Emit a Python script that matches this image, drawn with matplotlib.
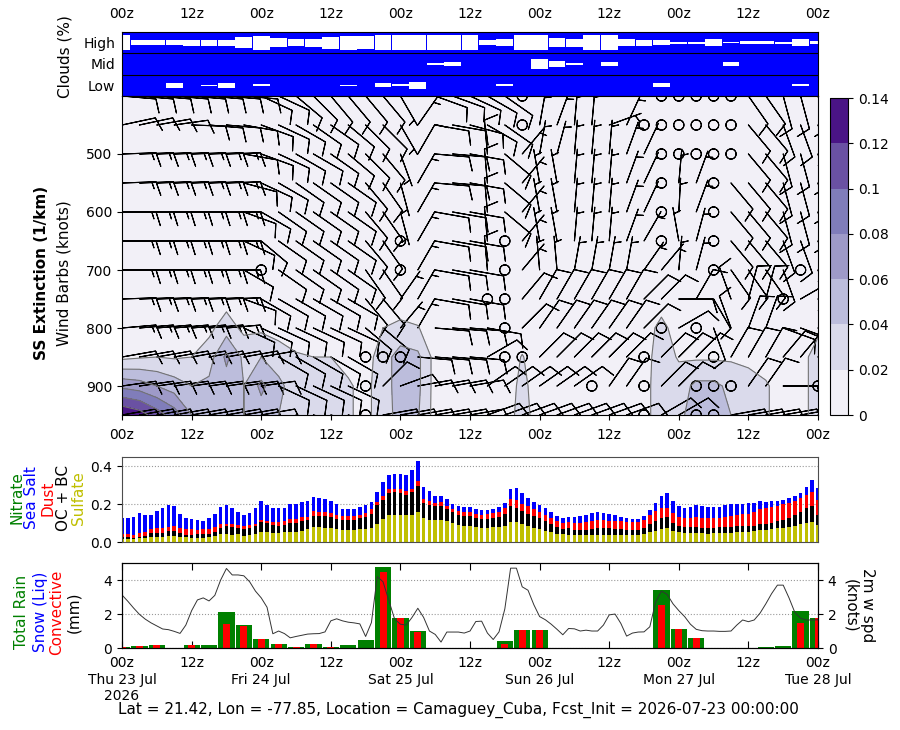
import matplotlib
matplotlib.use('Agg')
import matplotlib.pyplot as plt
import numpy as np

# ---------------- data ----------------
hours = np.arange(121)          # hourly steps, 0..120 h
hours3 = np.arange(0, 121, 3)   # 3-hourly steps
plevs = [400, 450, 500, 550, 600, 650, 700, 750, 800, 850, 900, 950]
ext_levs = [750, 800, 850, 900, 950]

cloud_high = [68, 24, 24, 24, 27, 27, 27, 49, 65, 43, 32, 37, 56, 65, 63, 67, 67, 67, 67, 67, 67,
              24, 33, 67, 67, 43, 37, 67, 67, 33, 27, 24, 10, 10, 33, 8, 17, 17, 10, 33, 17]
cloud_mid = [0, 0, 0, 0, 0, 0, 0, 0, 0, 0, 0, 0, 0, 0, 0, 0, 0, 0, 12, 15, 0,
             0, 0, 0, 45, 32, 9, 3, 18, 0, 0, 0, 0, 0, 0, 18, 0, 0, 0, 0, 0]
cloud_low = [0, 0, 0, 21, 0, 3, 25, 0, 10, 0, 0, 0, 0, 3, 0, 19, 10, 33, 0, 0, 0,
             0, 10, 0, 0, 0, 0, 0, 0, 0, 0, 19, 0, 0, 0, 0, 0, 0, 0, 10, 0]

# wind direction (deg, from) and speed (knots); rows = plevs, cols = hours3
wind_dir = [
    [95, 95, 95, 95, 95, 95, 95, 95, 115, 115, 130, 135, 140, 140, 140, 140, 150, 30, 110, 110, 115, 120, 125, 0, 10, 15, 5, 5, 5, 10, 25, 0, 0, 0, 0, 0, 145, 145, 165, 165, 165],
    [78, 78, 80, 82, 92, 95, 95, 100, 110, 115, 120, 125, 125, 130, 135, 135, 150, 35, 100, 100, 105, 120, 125, 0, 10, 20, 5, 5, 70, 25, 0, 0, 0, 0, 0, 0, 140, 140, 160, 160, 160],
    [88, 88, 88, 88, 88, 88, 88, 100, 110, 115, 120, 120, 125, 130, 135, 140, 160, 30, 95, 95, 100, 355, 130, 40, 10, 15, 5, 5, 5, 20, 25, 0, 0, 0, 0, 0, 140, 140, 165, 165, 165],
    [88, 88, 88, 88, 88, 88, 88, 105, 115, 120, 125, 125, 125, 125, 140, 145, 165, 30, 95, 95, 100, 355, 130, 40, 350, 350, 5, 5, 5, 20, 25, 0, 5, 20, 0, 140, 140, 140, 165, 165, 165],
    [90, 90, 90, 90, 90, 90, 90, 110, 120, 125, 125, 125, 125, 125, 140, 145, 165, 30, 100, 100, 100, 355, 130, 40, 350, 350, 5, 5, 5, 20, 25, 0, 3, 20, 0, 140, 140, 140, 165, 165, 165],
    [90, 90, 90, 90, 90, 90, 90, 115, 130, 125, 125, 125, 125, 125, 140, 145, 0, 30, 100, 100, 100, 355, 0, 40, 350, 350, 5, 5, 5, 20, 30, 0, 350, 15, 0, 140, 140, 140, 160, 160, 160],
    [90, 90, 90, 90, 90, 90, 90, 120, 0, 125, 125, 125, 125, 125, 145, 145, 0, 30, 100, 100, 100, 355, 0, 40, 355, 355, 10, 10, 10, 10, 35, 40, 5, 15, 0, 145, 145, 145, 160, 0, 160],
    [88, 88, 88, 88, 88, 88, 88, 110, 120, 120, 120, 120, 120, 120, 140, 140, 35, 30, 100, 100, 100, 0, 0, 40, 30, 30, 30, 30, 30, 30, 45, 45, 90, 30, 150, 340, 15, 15, 0, 60, 120],
    [85, 85, 85, 85, 85, 85, 85, 115, 115, 115, 115, 115, 115, 115, 130, 130, 40, 30, 95, 95, 95, 100, 0, 45, 35, 35, 35, 35, 35, 35, 45, 0, 60, 0, 160, 340, 20, 20, 110, 110, 110],
    [80, 80, 80, 80, 80, 80, 80, 80, 80, 120, 120, 120, 120, 120, 0, 0, 0, 95, 95, 95, 95, 60, 0, 0, 45, 45, 45, 45, 45, 45, 0, 45, 45, 45, 0, 30, 30, 30, 40, 40, 40],
    [82, 82, 82, 82, 82, 82, 82, 82, 82, 115, 115, 115, 115, 115, 0, 45, 70, 80, 80, 80, 80, 55, 55, 55, 55, 55, 55, 0, 35, 35, 0, 45, 45, 0, 0, 0, 35, 35, 90, 90, 0],
    [80, 80, 80, 80, 80, 80, 80, 80, 80, 105, 105, 105, 105, 105, 0, 80, 80, 80, 80, 80, 80, 70, 70, 70, 70, 70, 70, 70, 70, 70, 0, 60, 60, 0, 0, 80, 80, 80, 80, 80, 80],
]
wind_spd = [
    [10, 10, 10, 10, 10, 10, 10, 10, 12, 12, 12, 12, 12, 12, 12, 12, 7, 7, 10, 10, 10, 10, 10, 0, 7, 7, 7, 7, 7, 7, 7, 0, 0, 0, 0, 0, 10, 10, 10, 10, 10],
    [12, 12, 12, 12, 12, 12, 12, 12, 12, 12, 12, 12, 12, 12, 12, 12, 7, 7, 10, 10, 10, 10, 10, 0, 7, 7, 7, 7, 7, 7, 0, 0, 0, 0, 0, 0, 10, 10, 10, 10, 10],
    [15, 15, 15, 15, 15, 15, 15, 12, 12, 12, 12, 12, 12, 12, 12, 12, 7, 8, 10, 10, 10, 10, 10, 7, 7, 7, 7, 7, 7, 7, 7, 0, 0, 0, 0, 0, 10, 10, 10, 10, 10],
    [15, 15, 15, 15, 15, 15, 15, 12, 12, 12, 12, 12, 12, 12, 12, 12, 7, 7, 10, 10, 10, 10, 10, 7, 7, 7, 7, 7, 7, 7, 7, 0, 7, 7, 0, 10, 10, 10, 10, 10, 10],
    [15, 15, 15, 15, 15, 15, 15, 12, 12, 12, 12, 12, 12, 12, 12, 12, 7, 7, 10, 10, 10, 10, 10, 7, 7, 7, 7, 7, 7, 7, 7, 0, 7, 7, 0, 10, 10, 10, 10, 10, 10],
    [15, 15, 15, 15, 15, 15, 15, 12, 12, 12, 12, 12, 12, 12, 12, 12, 0, 7, 10, 10, 10, 10, 0, 7, 7, 7, 7, 7, 7, 7, 7, 0, 7, 7, 0, 10, 10, 10, 10, 10, 10],
    [15, 15, 15, 15, 15, 15, 15, 12, 0, 12, 12, 12, 12, 12, 12, 12, 0, 7, 10, 10, 10, 10, 0, 7, 7, 7, 7, 7, 7, 7, 7, 7, 7, 7, 0, 10, 10, 10, 10, 0, 8],
    [15, 15, 15, 15, 15, 15, 15, 12, 12, 12, 12, 12, 12, 12, 12, 12, 7, 7, 10, 10, 10, 0, 0, 8, 8, 8, 8, 8, 8, 8, 8, 8, 8, 8, 8, 8, 8, 8, 0, 8, 8],
    [15, 15, 15, 15, 15, 15, 15, 12, 12, 12, 12, 12, 12, 12, 12, 12, 7, 7, 10, 10, 10, 10, 0, 8, 8, 8, 8, 8, 8, 8, 8, 0, 8, 0, 8, 8, 8, 8, 8, 8, 8],
    [12, 12, 12, 12, 12, 12, 12, 12, 12, 12, 12, 12, 12, 12, 0, 0, 0, 10, 10, 10, 10, 10, 0, 0, 8, 8, 8, 8, 8, 8, 0, 8, 8, 8, 0, 8, 8, 8, 8, 8, 8],
    [12, 12, 12, 12, 12, 12, 12, 12, 12, 12, 12, 12, 12, 12, 0, 8, 8, 8, 8, 8, 8, 8, 8, 8, 8, 8, 8, 0, 8, 8, 0, 8, 8, 0, 0, 0, 8, 8, 8, 8, 0],
    [12, 12, 12, 12, 12, 12, 12, 12, 12, 10, 10, 10, 10, 10, 0, 10, 10, 10, 10, 10, 10, 10, 10, 10, 10, 10, 10, 10, 10, 10, 0, 8, 8, 0, 0, 8, 8, 8, 8, 8, 8],
]

# sea salt extinction (1/km), rows = ext_levs (everything above is < 0.02)
ss_ext = [
    [.01, .01, .01, .01, .01, .01, .012, .01, .01, .01, .01, .01, .01, .01, .01, .01, .01, .01, .01, .01, .01,
     .01, .01, .01, .01, .01, .01, .01, .01, .01, .01, .01, .01, .01, .01, .01, .01, .01, .01, .01, .01],
    [.01, .01, .01, .01, .01, .015, .03, .015, .016, .012, .01, .01, .01, .01, .01, .02, .024, .021, .01, .01, .01,
     .01, .01, .01, .01, .01, .01, .01, .01, .01, .01, .026, .01, .01, .01, .01, .01, .01, .01, .01, .015],
    [.015, .018, .02, .018, .02, .03, .065, .035, .04, .03, .022, .02, .02, .015, .012, .03, .05, .045, .012, .01, .01,
     .01, .01, .021, .01, .01, .01, .01, .01, .01, .012, .03, .018, .017, .017, .017, .017, .012, .01, .012, .03],
    [.075, .07, .06, .05, .04, .045, .05, .04, .065, .045, .03, .03, .028, .022, .015, .03, .05, .045, .012, .01, .01,
     .01, .01, .025, .01, .01, .01, .01, .01, .01, .015, .028, .03, .045, .045, .035, .025, .022, .012, .012, .03],
    [.14, .13, .11, .09, .06, .05, .045, .04, .05, .04, .03, .03, .025, .022, .015, .03, .048, .042, .012, .01, .01,
     .01, .01, .028, .01, .01, .01, .01, .01, .01, .015, .028, .035, .05, .05, .04, .028, .022, .012, .012, .03],
]

sulfate = [.016, .016, .018, .021, .023, .025, .028, .028, .032, .030, .028, .025, .023, .023, .023, .025, .032, .042,
           .044, .039, .040, .033, .035, .044, .054, .054, .049, .049, .051, .053, .053, .060, .067, .077, .077, .075,
           .074, .067, .063, .063, .063, .067, .070, .074, .095, .121, .142, .142, .142, .142, .142, .160, .128, .116,
           .116, .116, .111, .100, .089, .084, .084, .079, .074, .074, .079, .079, .084, .105, .105, .095, .084, .074,
           .068, .058, .053, .042, .042, .037, .037, .037, .037, .037, .037, .037, .037, .037, .037, .037, .037, .037,
           .042, .053, .058, .068, .074, .058, .053, .047, .047, .047, .047, .042, .047, .047, .047, .047, .053, .053,
           .053, .058, .063, .063, .068, .074, .074, .079, .084, .095, .100, .105, .089]
oc_bc = [.012, .009, .005, .007, .009, .021, .018, .021, .028, .030, .021, .012, .014, .018, .018, .018, .021, .030,
         .040, .039, .035, .037, .037, .040, .053, .047, .040, .037, .039, .049, .049, .051, .049, .060, .060, .061,
         .056, .053, .053, .053, .053, .058, .060, .077, .100, .103, .119, .123, .119, .105, .123, .137, .079, .079,
         .074, .074, .063, .058, .053, .053, .053, .047, .047, .047, .047, .053, .063, .084, .074, .068, .063, .063,
         .058, .053, .042, .037, .026, .037, .026, .026, .026, .032, .037, .037, .037, .032, .032, .026, .026, .026,
         .032, .042, .053, .058, .058, .042, .032, .032, .032, .032, .026, .032, .026, .032, .032, .032, .032, .032,
         .032, .026, .032, .032, .032, .037, .042, .047, .058, .063, .079, .084, .053]
dust = [.014, .016, .014, .021, .023, .021, .026, .026, .018, .025, .026, .030, .030, .023, .026, .025, .025, .023,
        .014, .016, .016, .016, .016, .011, .012, .011, .018, .021, .021, .018, .018, .019, .018, .025, .023, .023,
        .023, .023, .023, .021, .021, .018, .025, .026, .018, .018, .018, .014, .018, .023, .018, .026, .021, .021,
        .018, .021, .018, .016, .021, .023, .023, .021, .021, .026, .026, .026, .032, .037, .042, .037, .044, .037,
        .032, .032, .032, .032, .032, .032, .037, .037, .042, .042, .042, .042, .037, .042, .042, .042, .042, .042,
        .042, .047, .053, .053, .047, .053, .047, .047, .047, .053, .053, .053, .053, .047, .053, .058, .058, .063,
        .063, .074, .079, .084, .084, .079, .084, .079, .074, .074, .068, .074, .079]
sea_salt = [.086, .084, .095, .105, .086, .075, .091, .105, .119, .105, .072, .061, .056, .053, .044, .060, .072, .089,
            .096, .088, .068, .056, .067, .086, .096, .086, .074, .074, .067, .081, .084, .082, .082, .077, .074, .070,
            .063, .056, .037, .037, .037, .044, .039, .035, .051, .075, .075, .081, .081, .084, .096, .105, .063, .054,
            .037, .033, .035, .026, .026, .025, .025, .026, .026, .021, .021, .026, .026, .053, .063, .058, .040, .037,
            .037, .037, .032, .026, .026, .026, .032, .037, .037, .042, .042, .037, .037, .032, .021, .021, .016, .016,
            .021, .026, .042, .063, .079, .063, .058, .053, .058, .063, .063, .058, .058, .058, .063, .063, .058, .053,
            .058, .047, .042, .032, .032, .026, .021, .026, .026, .026, .047, .063, .063]

rain_total = [0.08, 0.14, 0.2, 0, 0.2, 0.2, 2.1, 1.37, 0.55, 0.25, 0.08, 0.25, 0.08, 0.2, 0.49, 4.76, 1.78, 1.0, 0, 0, 0,
              0, 0.43, 1.07, 1.07, 0, 0, 0, 0, 0, 0, 3.43, 1.13, 0.6, 0, 0, 0, 0.08, 0.14, 2.19, 1.78]
rain_conv = [0.07, 0.14, 0.2, 0, 0.2, 0, 1.39, 1.27, 0.55, 0.25, 0.08, 0.25, 0.06, 0, 0, 4.45, 1.78, 0.92, 0, 0, 0,
             0, 0.23, 1.07, 1.07, 0, 0, 0, 0, 0, 0, 2.54, 1.13, 0.6, 0, 0, 0, 0, 0, 1.5, 1.76]
wspd_2m = [3.12, 2.75, 2.35, 1.98, 1.7, 1.48, 1.3, 1.12, 1.08, 0.98, 0.86, 1.35, 2.2, 2.83, 2.95, 2.77, 3.1, 4.0, 4.68,
           4.3, 4.3, 4.25, 3.9, 3.35, 2.95, 2.4, 0.84, 1.0, 0.85, 0.6, 0.68, 0.75, 0.82, 0.84, 0.85, 0.95, 1.6, 1.72,
           1.6, 1.52, 1.48, 1.42, 0.68, 1.5, 4.2, 3.9, 2.8, 1.7, 1.4, 1.35, 1.8, 2.34, 1.8, 1.0, 0.8, 0.35, 0.94, 0.94,
           0.94, 0.88, 1.0, 1.56, 1.58, 0.88, 0.5, 0.95, 2.3, 4.7, 4.7, 3.6, 3.4, 2.55, 1.85, 1.66, 1.4, 1.1, 0.78,
           1.15, 1.13, 1.0, 1.05, 1.0, 1.0, 1.35, 1.95, 2.0, 1.45, 0.7, 0.88, 0.94, 0.95, 1.25, 2.7, 3.35, 3.15, 2.6,
           2.2, 1.85, 1.4, 1.1, 1.02, 1.0, 1.0, 0.98, 0.98, 1.0, 1.35, 1.65, 1.55, 1.65, 2.05, 2.6, 3.2, 3.7, 3.7,
           2.95, 2.1, 1.75, 1.65, 1.65, 1.66]

tick_hours = [0, 12, 24, 36, 48, 60, 72, 84, 96, 108, 120]
zlabels = ['00z', '12z', '00z', '12z', '00z', '12z', '00z', '12z', '00z', '12z', '00z']
date_labels = ['00z\nThu 23 Jul\n2026', '12z', '00z\nFri 24 Jul', '12z', '00z\nSat 25 Jul', '12z',
               '00z\nSun 26 Jul', '12z', '00z\nMon 27 Jul', '12z', '00z\nTue 28 Jul']
ext_bounds = [0, 0.02, 0.04, 0.06, 0.08, 0.1, 0.12, 0.14]
purples = ['#f2f0f7', '#dadaeb', '#bcbddc', '#9e9ac8', '#807dba', '#6a51a3', '#4a1486']

# ---------------- figure ----------------
fig = plt.figure(figsize=(9, 7.3), dpi=100)
L, W = 0.1356, 0.7733
ax_c = fig.add_axes([L, 0.8685, W, 0.0877])
ax_w = fig.add_axes([L, 0.4315, W, 0.437])
cax = fig.add_axes([0.9222, 0.4315, 0.02, 0.4342])
ax_a = fig.add_axes([L, 0.2575, W, 0.1164])
ax_p = fig.add_axes([L, 0.1123, W, 0.1164])

# clouds
ax_c.set_facecolor('#0000ff')
for row, pct in zip([2.5, 1.5, 0.5], [cloud_high, cloud_mid, cloud_low]):
    h = np.array(pct) / 100.0
    ax_c.bar(hours3, h, bottom=row - h / 2, width=2.9, color='white', linewidth=0)
ax_c.axhline(1, color='k', lw=0.8)
ax_c.axhline(2, color='k', lw=0.8)
ax_c.set_xlim(0, 120)
ax_c.set_ylim(0, 3)
ax_c.set_yticks([2.5, 1.5, 0.5])
ax_c.set_yticklabels(['High', 'Mid', 'Low'])
ax_c.xaxis.tick_top()
ax_c.set_xticks(tick_hours)
ax_c.set_xticklabels(zlabels)
ax_c.tick_params(length=0, pad=5)
ax_c.tick_params(axis='x', pad=8)

# extinction + wind barbs
ax_w.set_facecolor(purples[0])
cf = ax_w.contourf(hours3, ext_levs, np.array(ss_ext), levels=ext_bounds, colors=purples)
ax_w.contour(hours3, ext_levs, np.array(ss_ext), levels=ext_bounds[1:-1], colors='0.45', linewidths=0.8)
X, Y = np.meshgrid(hours3, plevs)
d = np.radians(np.array(wind_dir, dtype=float))
s = np.array(wind_spd, dtype=float)
U = -s * np.sin(d)
V = -s * np.cos(d)
ax_w.barbs(X, Y, U, V, length=7, linewidth=0.8, color='k')
ax_w.set_xlim(0, 120)
ax_w.set_ylim(950, 400)
ax_w.set_yticks([500, 600, 700, 800, 900])
ax_w.set_xticks(tick_hours)
ax_w.set_xticklabels(zlabels)
ax_w.tick_params(axis='x', pad=6)

cb = fig.colorbar(cf, cax=cax, ticks=ext_bounds)
cb.ax.set_yticklabels(['0', '0.02', '0.04', '0.06', '0.08', '0.1', '0.12', '0.14'])
cb.outline.set_linewidth(0.8)

# aerosols
sulf = np.array(sulfate)
oc = np.array(oc_bc)
du = np.array(dust)
ss = np.array(sea_salt)
ax_a.bar(hours, sulf, width=0.6, color='y', linewidth=0)
ax_a.bar(hours, oc, bottom=sulf, width=0.6, color='k', linewidth=0)
ax_a.bar(hours, du, bottom=sulf + oc, width=0.6, color='r', linewidth=0)
ax_a.bar(hours, ss, bottom=sulf + oc + du, width=0.6, color='b', linewidth=0)
ax_a.set_xlim(0, 120)
ax_a.set_ylim(0, 0.45)
ax_a.set_yticks([0, 0.2, 0.4])
ax_a.set_yticklabels(['0.0', '0.2', '0.4'])
ax_a.tick_params(axis='x', bottom=False, labelbottom=False)
ax_a.grid(axis='y', ls=':', color='0.6', lw=0.8)
ax_a.set_axisbelow(True)
for sp in ax_a.spines.values():
    sp.set_color('0.3')

# precip + 2m wind
ax_p.bar(hours3, rain_total, width=2.8, color='g', linewidth=0)
ax_p.bar(hours3, rain_conv, width=1.2, color='r', linewidth=0)
ax_p.set_xlim(0, 120)
ax_p.set_ylim(0, 5)
ax_p.set_yticks([0, 2, 4])
ax_p.grid(axis='y', ls=':', color='0.6', lw=0.8)
ax_p.set_axisbelow(True)
ax_p.set_xticks(tick_hours)
ax_p.set_xticklabels(date_labels)
ax_p.tick_params(axis='x', direction='in', top=True, length=5, pad=6)
ax_p2 = ax_p.twinx()
ax_p2.plot(hours, wspd_2m, color='0.2', lw=0.7)
ax_p2.set_ylim(0, 5)
ax_p2.set_yticks([0, 2, 4])
ax_p2.set_ylabel('2m w spd\n(knots)', rotation=270, labelpad=28, fontsize=11)

# labels
fig.text(65 / 900, 1 - 57 / 730, 'Clouds (%)', rotation=90, ha='center', va='center', fontsize=11)
fig.text(42 / 900, 1 - 273 / 730, 'SS Extinction (1/km)', rotation=90, ha='center', va='center',
         fontsize=11, fontweight='bold')
fig.text(64 / 900, 1 - 273 / 730, 'Wind Barbs (knots)', rotation=90, ha='center', va='center', fontsize=11)
for x, t, c in zip([17, 32, 48, 63, 79], ['Nitrate', 'Sea Salt', 'Dust', 'OC + BC', 'Sulfate'],
                   ['g', 'b', 'r', 'k', 'y']):
    fig.text(x / 900, 1 - 498 / 730, t, color=c, rotation=90, ha='center', va='center', fontsize=11)
for x, t, c in zip([22, 40, 57, 74], ['Total Rain', 'Snow (Liq)', 'Convective', '(mm)'], ['g', 'b', 'r', 'k']):
    fig.text(x / 900, 1 - 612 / 730, t, color=c, rotation=90, ha='center', va='center', fontsize=11)
fig.text(458 / 900, 1 - 710 / 730,
         'Lat = 21.42, Lon = -77.85, Location = Camaguey_Cuba, Fcst_Init = 2026-07-23 00:00:00',
         ha='center', va='center', fontsize=11)

fig.savefig('out.png', dpi=100)
